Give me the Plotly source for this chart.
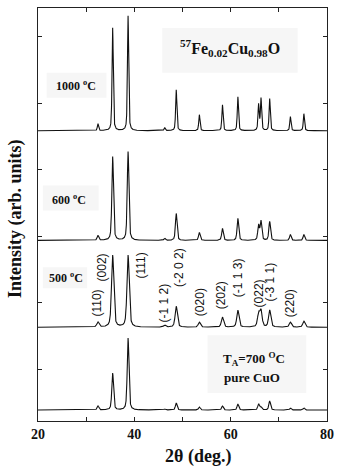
import numpy as np
import plotly.graph_objects as go

# ---- data ----
two_theta_min, two_theta_max = 20, 80
peak_pos = [32.45, 35.5, 38.7, 46.3, 48.7, 53.5, 58.3, 61.5, 65.8, 66.3, 68.1, 72.4, 75.2]

series_names = ["pure CuO (700 °C)", "500 °C", "600 °C", "1000 °C"]
baselines = [11, 94, 181, 291]
heights_cuo = [4, 37, 72, 1, 7, 3, 4, 6, 6, 3, 9, 2, 2]
heights_500 = [5, 72, 72, 2, 21, 5, 10, 17, 13, 16, 17, 5, 6]
heights_600 = [5, 84, 89, 2, 27, 8, 12, 22, 15, 19, 19, 6, 6]
heights_1000 = [7, 103, 115, 3, 41, 16, 26, 34, 26, 32, 32, 14, 17]
fwhm = [0.42, 0.55, 0.4, 0.3]
all_heights = [heights_cuo, heights_500, heights_600, heights_1000]

hkl_labels = ["(110)", "(002)", "(111)", "(-1 1 2)", "(-2 0 2)", "(020)", "(202)",
              "(-1 1 3)", "(022)", "(-3 1 1)", "(220)"]
hkl_x = [32.3, 33.3, 41.4, 46.2, 49.4, 53.6, 58.0, 61.5, 65.9, 68.2, 72.3]
hkl_y = [118, 154, 156, 118, 154, 119, 126, 144, 128, 139, 118]

x_major_ticks = [20, 40, 60, 80]
y_ticks = [52, 118.6, 185.2, 251.8, 318.4, 385]

# ---- build profiles from the peak parameters ----
x = np.linspace(two_theta_min, two_theta_max, 3001)


def profile(base, heights, w):
    y = np.full_like(x, float(base))
    g = w / 2.0
    for p, h in zip(peak_pos, heights):
        lor = g**2 / ((x - p) ** 2 + g**2)
        gau = np.exp(-np.log(2) * ((x - p) / g) ** 2)
        y += h * (0.5 * gau + 0.5 * lor)
    return y


fig = go.Figure()
for name, base, hts, w in zip(series_names, baselines, all_heights, fwhm):
    fig.add_trace(go.Scatter(x=x, y=profile(base, hts, w), mode="lines", name=name,
                             line=dict(color="#111111", width=1.1), showlegend=False))

serif = "Liberation Serif"
sans = "Liberation Sans"

annotations = []
for t, xx, yy in zip(hkl_labels, hkl_x, hkl_y):
    annotations.append(dict(x=xx, y=yy, xref="x", yref="y", text=t, showarrow=False,
                            textangle=-90, font=dict(family=sans, size=12, color="#111")))

temp_labels = [("1000 <sup>o</sup>C", 27.9, 336), ("600 <sup>o</sup>C", 26.5, 222),
               ("500 <sup>o</sup>C", 25.9, 144)]
for t, xx, yy in temp_labels:
    annotations.append(dict(x=xx, y=yy, xref="x", yref="y", text=t, showarrow=False,
                            font=dict(family=serif, size=12, color="#111", weight="bold")))

annotations.append(dict(x=59.9, y=374, xref="x", yref="y",
                        text="<sup>57</sup>Fe<sub>0.02</sub>Cu<sub>0.98</sub>O",
                        showarrow=False,
                        font=dict(family=serif, size=16, color="#111", weight="bold")))
annotations.append(dict(x=64.9, y=62, xref="x", yref="y",
                        text="T<sub>A</sub>=700 <sup>O</sup>C", showarrow=False,
                        font=dict(family=serif, size=13, color="#111", weight="bold")))
annotations.append(dict(x=64.5, y=44, xref="x", yref="y", text="pure CuO", showarrow=False,
                        font=dict(family=serif, size=13, color="#111", weight="bold")))

annotations.append(dict(x=0.5525, y=-0.087, xref="paper", yref="paper", text="2θ (deg.)",
                        showarrow=False, yanchor="middle",
                        font=dict(family=serif, size=18, color="#111", weight="bold")))
annotations.append(dict(x=-0.078, y=0.49, xref="paper", yref="paper",
                        text="Intensity (arb. units)", textangle=-90, showarrow=False,
                        xanchor="center", yanchor="middle",
                        font=dict(family=serif, size=18, color="#111", weight="bold")))

box_color = "#f6f6f6"
boxes = [(45.8, 73.9, 349, 394), (21.8, 34.2, 324, 349), (21.0, 32.6, 211, 236),
         (21.0, 30.2, 133, 154), (55.2, 75.7, 28, 86)]
shapes = [dict(type="rect", xref="x", yref="y", x0=a, x1=b, y0=c, y1=d,
               fillcolor=box_color, line=dict(width=0), layer="below")
          for a, b, c, d in boxes]

fig.update_layout(
    width=341, height=466,
    margin=dict(l=38, r=8, t=7, b=45),
    paper_bgcolor="white", plot_bgcolor="white",
    annotations=annotations, shapes=shapes,
    xaxis=dict(range=[two_theta_min, two_theta_max], tickvals=x_major_ticks,
               ticks="inside", ticklen=4, tickcolor="#222", showline=True, linecolor="#222",
               linewidth=1, mirror="ticks", showgrid=False, zeroline=False,
               minor=dict(tick0=20, dtick=10, ticks="inside", ticklen=4, tickcolor="#222",
                          showgrid=False),
               tickfont=dict(family=serif, size=14, color="#111", weight="bold")),
    yaxis=dict(range=[0, 414], tickvals=y_ticks, showticklabels=False,
               ticks="inside", ticklen=4, tickcolor="#222", showline=True, linecolor="#222",
               linewidth=1, mirror="ticks", showgrid=False, zeroline=False),
)

fig.write_html("out.html")
